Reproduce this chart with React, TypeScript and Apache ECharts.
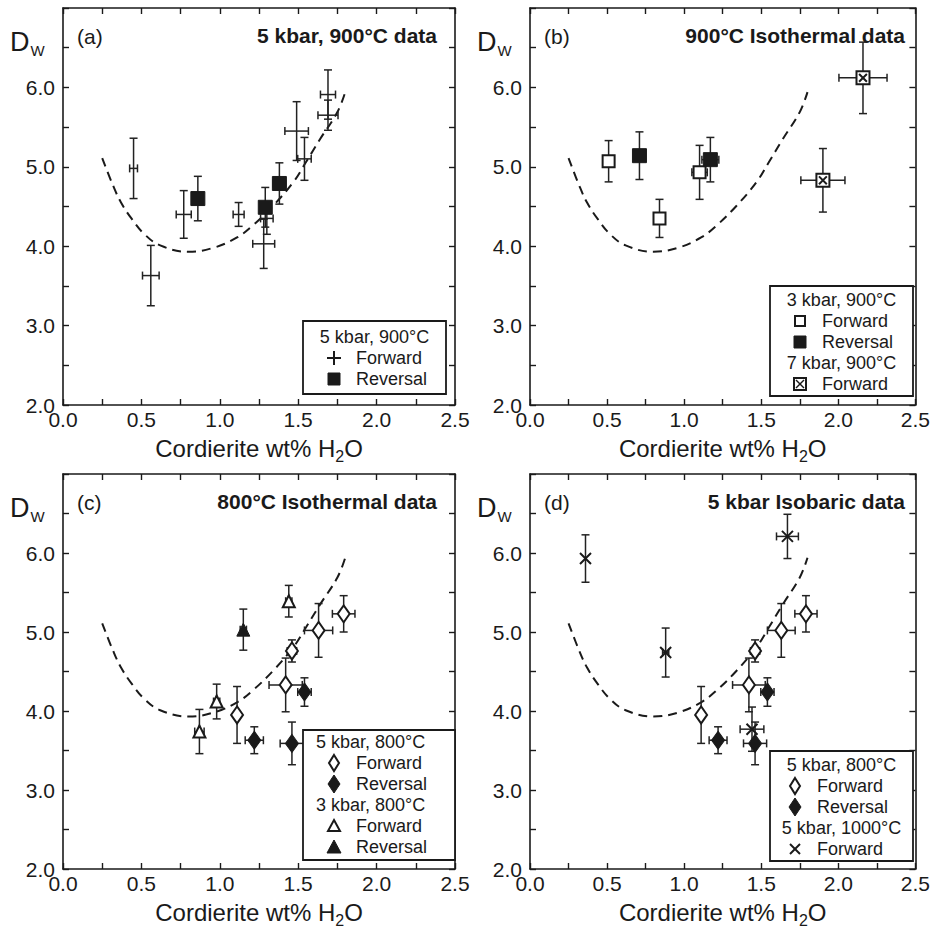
import React, { useEffect, useRef } from "react";
import * as echarts from "echarts";

const FONT = "'Liberation Sans', Arial, Helvetica, sans-serif";
const INK = "#1a1a1a";

// Tick labels
const xTickLabels = ["0.0", "0.5", "1.0", "1.5", "2.0", "2.5"];
const yTickLabels = ["2.0", "3.0", "4.0", "5.0", "6.0"];

// Model curve (dashed), same in all panels
const curveX = [0.25, 0.32, 0.37, 0.44, 0.52, 0.62, 0.8, 0.96, 1.11, 1.21, 1.34, 1.47, 1.55, 1.64, 1.75, 1.8];
const curveY = [5.11, 4.76, 4.55, 4.34, 4.15, 4.01, 3.93, 3.98, 4.11, 4.26, 4.51, 4.81, 5.06, 5.35, 5.69, 5.94];

// (a) 5 kbar, 900°C forward (+)
const a900FwdX = [0.45, 0.56, 0.77, 1.12, 1.3, 1.28, 1.49, 1.54, 1.69, 1.69];
const a900FwdY = [4.98, 3.63, 4.4, 4.4, 4.35, 4.03, 5.45, 5.1, 5.91, 5.65];
const a900FwdXErr = [0.025, 0.053, 0.048, 0.035, 0.04, 0.07, 0.075, 0.043, 0.048, 0.064];
const a900FwdYErr = [0.38, 0.38, 0.3, 0.15, 0.2, 0.31, 0.37, 0.27, 0.31, 0.19];
// (a) 5 kbar, 900°C reversal
const a900RevX = [0.86, 1.29, 1.38];
const a900RevY = [4.6, 4.49, 4.79];
const a900RevXErr = [0.02, 0.02, 0.04];
const a900RevYErr = [0.28, 0.25, 0.26];

// (b) 3 kbar, 900°C forward / reversal ; 7 kbar, 900°C forward
const b3FwdX = [0.51, 0.84, 1.1];
const b3FwdY = [5.07, 4.35, 4.93];
const b3FwdXErr = [0.02, 0.02, 0.05];
const b3FwdYErr = [0.26, 0.24, 0.34];
const b3RevX = [0.71, 1.17];
const b3RevY = [5.14, 5.09];
const b3RevXErr = [0.02, 0.055];
const b3RevYErr = [0.3, 0.28];
const b7FwdX = [2.16, 1.9];
const b7FwdY = [6.12, 4.83];
const b7FwdXErr = [0.156, 0.143];
const b7FwdYErr = [0.45, 0.4];

// 5 kbar, 800°C forward / reversal (panels c and d)
const k5t800FwdX = [1.79, 1.63, 1.46, 1.42, 1.11];
const k5t800FwdY = [5.23, 5.02, 4.76, 4.33, 3.95];
const k5t800FwdXErr = [0.072, 0.09, 0.03, 0.106, 0.02];
const k5t800FwdYErr = [0.23, 0.34, 0.14, 0.34, 0.36];
const k5t800RevX = [1.54, 1.22, 1.46];
const k5t800RevY = [4.24, 3.63, 3.59];
const k5t800RevXErr = [0.043, 0.058, 0.075];
const k5t800RevYErr = [0.18, 0.17, 0.27];
// 3 kbar, 800°C forward / reversal (panel c)
const k3t800FwdX = [0.87, 0.98, 1.44];
const k3t800FwdY = [3.74, 4.12, 5.39];
const k3t800FwdXErr = [0.03, 0.02, 0.02];
const k3t800FwdYErr = [0.28, 0.22, 0.2];
const k3t800RevX = [1.15];
const k3t800RevY = [5.03];
const k3t800RevXErr = [0.02];
const k3t800RevYErr = [0.26];
// 5 kbar, 1000°C forward (panel d)
const k5t1000FwdX = [0.36, 0.88, 1.67, 1.44];
const k5t1000FwdY = [5.93, 4.74, 6.21, 3.77];
const k5t1000FwdXErr = [0, 0.02, 0.071, 0.077];
const k5t1000FwdYErr = [0.3, 0.31, 0.28, 0.28];

const panelLetters = ["(a)", "(b)", "(c)", "(d)"];
const panelTitles = ["5 kbar, 900°C data", "900°C Isothermal data", "800°C Isothermal data", "5 kbar Isobaric data"];

const grids = [
  { left: 63, top: 8, width: 392, height: 397 },
  { left: 530, top: 8, width: 393, height: 397 },
  { left: 63, top: 474, width: 392, height: 395 },
  { left: 530, top: 474, width: 393, height: 395 },
];

const SYM = {
  sqOpen: { symbol: "rect", size: 12, style: { color: "#fff", borderColor: INK, borderWidth: 2 } },
  sqFill: { symbol: "rect", size: 14, style: { color: INK, borderColor: INK, borderWidth: 1 } },
  sqCross: {
    symbol: "path://M0,0L10,0L10,10L0,10ZM2,2L8,8M8,2L2,8",
    size: 13,
    style: { color: "#fff", borderColor: INK, borderWidth: 2 },
  },
  diaOpen: { symbol: "diamond", size: [12, 17], style: { color: "#fff", borderColor: INK, borderWidth: 2 } },
  diaFill: { symbol: "diamond", size: [13, 18], style: { color: INK, borderColor: INK, borderWidth: 1 } },
  triOpen: { symbol: "triangle", size: 12, style: { color: "#fff", borderColor: INK, borderWidth: 2 } },
  triFill: { symbol: "triangle", size: 13, style: { color: INK, borderColor: INK, borderWidth: 1 } },
  cross: { symbol: "path://M0,0L10,10M10,0L0,10", size: 11, style: { color: "none", borderColor: INK, borderWidth: 2 } },
};

function errorSeries(name: string, xs: number[], ys: number[], xe: number[], ye: number[], gi: number) {
  return {
    type: "custom",
    name: name + " error",
    xAxisIndex: gi * 2,
    yAxisIndex: gi * 2,
    z: 3,
    data: xs.map((x, i) => [x, ys[i], xe[i], ye[i]]),
    encode: { x: 0, y: 1 },
    renderItem: (_params: any, api: any) => {
      const x = api.value(0);
      const y = api.value(1);
      const dx = api.value(2);
      const dy = api.value(3);
      const t = api.coord([x, y + dy]);
      const b = api.coord([x, y - dy]);
      const l = api.coord([x - dx, y]);
      const r = api.coord([x + dx, y]);
      const cap = 4;
      const st = { stroke: "#222", lineWidth: 1.5 };
      const ch: any[] = [
        { type: "line", shape: { x1: t[0], y1: t[1], x2: b[0], y2: b[1] }, style: st },
        { type: "line", shape: { x1: t[0] - cap, y1: t[1], x2: t[0] + cap, y2: t[1] }, style: st },
        { type: "line", shape: { x1: b[0] - cap, y1: b[1], x2: b[0] + cap, y2: b[1] }, style: st },
      ];
      if (dx > 0) {
        ch.push({ type: "line", shape: { x1: l[0], y1: l[1], x2: r[0], y2: r[1] }, style: st });
        ch.push({ type: "line", shape: { x1: l[0], y1: l[1] - cap, x2: l[0], y2: l[1] + cap }, style: st });
        ch.push({ type: "line", shape: { x1: r[0], y1: r[1] - cap, x2: r[0], y2: r[1] + cap }, style: st });
      }
      return { type: "group", children: ch };
    },
  };
}

function scatterSeries(name: string, xs: number[], ys: number[], gi: number, kind: keyof typeof SYM) {
  const s = SYM[kind];
  return {
    type: "scatter",
    name,
    xAxisIndex: gi * 2,
    yAxisIndex: gi * 2,
    z: 5,
    symbol: s.symbol,
    symbolSize: s.size,
    itemStyle: { ...s.style, opacity: 1 },
    data: xs.map((x, i) => [x, ys[i]]),
  };
}

function curveSeries(gi: number) {
  return {
    type: "line",
    name: "model curve",
    xAxisIndex: gi * 2,
    yAxisIndex: gi * 2,
    z: 2,
    smooth: 0.4,
    showSymbol: false,
    symbol: "none",
    lineStyle: { color: INK, width: 2, type: [9, 6] },
    data: curveX.map((x, i) => [x, curveY[i]]),
  };
}

function legendSymbol(kind: string, cx: number, cy: number): any[] {
  const st = { stroke: INK, lineWidth: 2, fill: "#fff" };
  const fill = { fill: INK, stroke: INK, lineWidth: 1 };
  switch (kind) {
    case "plus":
      return [
        { type: "line", shape: { x1: cx - 7, y1: cy, x2: cx + 7, y2: cy }, style: { stroke: INK, lineWidth: 2 } },
        { type: "line", shape: { x1: cx, y1: cy - 7, x2: cx, y2: cy + 7 }, style: { stroke: INK, lineWidth: 2 } },
      ];
    case "sqOpen":
      return [{ type: "rect", shape: { x: cx - 5, y: cy - 5, width: 10, height: 10 }, style: st }];
    case "sqFill":
      return [{ type: "rect", shape: { x: cx - 6, y: cy - 6, width: 12, height: 12 }, style: fill }];
    case "sqCross":
      return [
        { type: "rect", shape: { x: cx - 6, y: cy - 6, width: 12, height: 12 }, style: st },
        { type: "line", shape: { x1: cx - 4, y1: cy - 4, x2: cx + 4, y2: cy + 4 }, style: { stroke: INK, lineWidth: 1.5 } },
        { type: "line", shape: { x1: cx + 4, y1: cy - 4, x2: cx - 4, y2: cy + 4 }, style: { stroke: INK, lineWidth: 1.5 } },
      ];
    case "diaOpen":
      return [{ type: "polygon", shape: { points: [[cx, cy - 8], [cx + 5, cy], [cx, cy + 8], [cx - 5, cy]] }, style: st }];
    case "diaFill":
      return [{ type: "polygon", shape: { points: [[cx, cy - 9], [cx + 6, cy], [cx, cy + 9], [cx - 6, cy]] }, style: fill }];
    case "triOpen":
      return [{ type: "polygon", shape: { points: [[cx, cy - 6], [cx + 6, cy + 5], [cx - 6, cy + 5]] }, style: st }];
    case "triFill":
      return [{ type: "polygon", shape: { points: [[cx, cy - 7], [cx + 7, cy + 6], [cx - 7, cy + 6]] }, style: fill }];
    case "cross":
      return [
        { type: "line", shape: { x1: cx - 5, y1: cy - 5, x2: cx + 5, y2: cy + 5 }, style: { stroke: INK, lineWidth: 2 } },
        { type: "line", shape: { x1: cx + 5, y1: cy - 5, x2: cx - 5, y2: cy + 5 }, style: { stroke: INK, lineWidth: 2 } },
      ];
  }
  return [];
}

const LEG_FONT = 18;

type Row = { head?: string; text?: string; sym?: string; y: number };
function legendBox(
  box: { x: number; y: number; w: number; h: number },
  headX: number,
  headAlign: string,
  symX: number,
  textX: number,
  rows: Row[]
) {
  const els: any[] = [
    {
      type: "rect",
      shape: { x: box.x, y: box.y, width: box.w, height: box.h },
      style: { fill: "#fff", stroke: INK, lineWidth: 1.8 },
      z: 10,
    },
  ];
  rows.forEach((r) => {
    if (r.head) {
      els.push({
        type: "text",
        z: 11,
        style: { text: r.head, x: headX, y: r.y, fontSize: LEG_FONT, fontFamily: FONT, fill: INK, align: headAlign, verticalAlign: "middle", textAlign: headAlign, textVerticalAlign: "middle" },
      });
    } else {
      legendSymbol(r.sym!, symX, r.y).forEach((e) => els.push({ ...e, z: 11 }));
      els.push({
        type: "text",
        z: 11,
        style: { text: r.text, x: textX, y: r.y, fontSize: LEG_FONT, fontFamily: FONT, fill: INK, align: "left", verticalAlign: "middle", textAlign: "left", textVerticalAlign: "middle" },
      });
    }
  });
  return els;
}

function buildOption() {
  const xAxis: any[] = [];
  const yAxis: any[] = [];
  const lineStyle = { color: INK, width: 1.6 };
  grids.forEach((_g, gi) => {
    const xBase = {
      gridIndex: gi,
      type: "value",
      min: 0,
      max: 2.5,
      interval: 0.25,
      splitLine: { show: false },
      axisLine: { show: true, onZero: false, lineStyle },
      axisTick: { show: true, inside: true, length: 6, lineStyle: { color: INK, width: 1.4 } },
    };
    xAxis.push({
      ...xBase,
      position: "bottom",
      name: "{m|Cordierite wt% H}{sub|2}{m|O}",
      nameLocation: "middle",
      nameGap: 31,
      nameTextStyle: {
        fontSize: 24,
        fontFamily: FONT,
        color: INK,
        rich: {
          m: { fontSize: 24, fontFamily: FONT, color: INK, lineHeight: 26, verticalAlign: "top" },
          sub: { fontSize: 16, fontFamily: FONT, color: INK, lineHeight: 28, verticalAlign: "bottom" },
        },
      },
      axisLabel: {
        show: true,
        margin: 4,
        fontSize: 21,
        fontFamily: FONT,
        color: INK,
        formatter: (v: number) => {
          const s = v.toFixed(1);
          return Math.abs(v * 2 - Math.round(v * 2)) < 1e-6 && xTickLabels.includes(s) ? s : "";
        },
      },
    });
    xAxis.push({ ...xBase, position: "top", axisLabel: { show: false } });
    const yBase = {
      gridIndex: gi,
      type: "value",
      min: 2,
      max: 7,
      interval: 0.5,
      splitLine: { show: false },
      axisLine: { show: true, onZero: false, lineStyle },
      axisTick: { show: true, inside: true, length: 6, lineStyle: { color: INK, width: 1.4 } },
    };
    yAxis.push({
      ...yBase,
      position: "left",
      axisLabel: {
        show: true,
        margin: 8,
        fontSize: 21,
        fontFamily: FONT,
        color: INK,
        formatter: (v: number) => {
          const s = v.toFixed(1);
          return Math.abs(v - Math.round(v)) < 1e-6 && yTickLabels.includes(s) ? s : "";
        },
      },
    });
    yAxis.push({ ...yBase, position: "right", axisLabel: { show: false } });
  });

  const series: any[] = [];
  for (let gi = 0; gi < 4; gi++) series.push(curveSeries(gi));

  // (a)
  series.push(errorSeries("5 kbar, 900°C Forward", a900FwdX, a900FwdY, a900FwdXErr, a900FwdYErr, 0));
  series.push(errorSeries("5 kbar, 900°C Reversal", a900RevX, a900RevY, a900RevXErr, a900RevYErr, 0));
  series.push(scatterSeries("5 kbar, 900°C Reversal", a900RevX, a900RevY, 0, "sqFill"));
  // (b)
  series.push(errorSeries("3 kbar, 900°C Forward", b3FwdX, b3FwdY, b3FwdXErr, b3FwdYErr, 1));
  series.push(errorSeries("3 kbar, 900°C Reversal", b3RevX, b3RevY, b3RevXErr, b3RevYErr, 1));
  series.push(errorSeries("7 kbar, 900°C Forward", b7FwdX, b7FwdY, b7FwdXErr, b7FwdYErr, 1));
  series.push(scatterSeries("3 kbar, 900°C Forward", b3FwdX, b3FwdY, 1, "sqOpen"));
  series.push(scatterSeries("3 kbar, 900°C Reversal", b3RevX, b3RevY, 1, "sqFill"));
  series.push(scatterSeries("7 kbar, 900°C Forward", b7FwdX, b7FwdY, 1, "sqCross"));
  // (c)
  series.push(errorSeries("5 kbar, 800°C Forward", k5t800FwdX, k5t800FwdY, k5t800FwdXErr, k5t800FwdYErr, 2));
  series.push(errorSeries("5 kbar, 800°C Reversal", k5t800RevX, k5t800RevY, k5t800RevXErr, k5t800RevYErr, 2));
  series.push(errorSeries("3 kbar, 800°C Forward", k3t800FwdX, k3t800FwdY, k3t800FwdXErr, k3t800FwdYErr, 2));
  series.push(errorSeries("3 kbar, 800°C Reversal", k3t800RevX, k3t800RevY, k3t800RevXErr, k3t800RevYErr, 2));
  series.push(scatterSeries("5 kbar, 800°C Forward", k5t800FwdX, k5t800FwdY, 2, "diaOpen"));
  series.push(scatterSeries("5 kbar, 800°C Reversal", k5t800RevX, k5t800RevY, 2, "diaFill"));
  series.push(scatterSeries("3 kbar, 800°C Forward", k3t800FwdX, k3t800FwdY, 2, "triOpen"));
  series.push(scatterSeries("3 kbar, 800°C Reversal", k3t800RevX, k3t800RevY, 2, "triFill"));
  // (d)
  series.push(errorSeries("5 kbar, 800°C Forward", k5t800FwdX, k5t800FwdY, k5t800FwdXErr, k5t800FwdYErr, 3));
  series.push(errorSeries("5 kbar, 800°C Reversal", k5t800RevX, k5t800RevY, k5t800RevXErr, k5t800RevYErr, 3));
  series.push(errorSeries("5 kbar, 1000°C Forward", k5t1000FwdX, k5t1000FwdY, k5t1000FwdXErr, k5t1000FwdYErr, 3));
  series.push(scatterSeries("5 kbar, 800°C Forward", k5t800FwdX, k5t800FwdY, 3, "diaOpen"));
  series.push(scatterSeries("5 kbar, 800°C Reversal", k5t800RevX, k5t800RevY, 3, "diaFill"));
  series.push(scatterSeries("5 kbar, 1000°C Forward", k5t1000FwdX, k5t1000FwdY, 3, "cross"));

  const graphic: any[] = [];
  grids.forEach((g, gi) => {
    const right = g.left + g.width;
    graphic.push({
      type: "text",
      style: { text: panelLetters[gi], x: g.left + 14, y: g.top + 28, fontSize: 21, fontFamily: FONT, fill: INK, align: "left", verticalAlign: "middle", textAlign: "left", textVerticalAlign: "middle" },
    });
    graphic.push({
      type: "text",
      style: { text: panelTitles[gi], x: right - 18, y: g.top + 27, fontSize: 21, fontWeight: "bold", fontFamily: FONT, fill: INK, align: "right", verticalAlign: "middle", textAlign: "right", textVerticalAlign: "middle" },
    });
    graphic.push({
      type: "text",
      style: {
        text: "{d|D}{w|W}",
        x: g.left - 53,
        y: g.top + 35,
        align: "left",
        verticalAlign: "middle",
        textAlign: "left",
        textVerticalAlign: "middle",
        rich: {
          d: { fontSize: 27, fontFamily: FONT, fill: INK, color: INK, lineHeight: 28, verticalAlign: "top" },
          w: { fontSize: 15, fontFamily: FONT, fill: INK, color: INK, lineHeight: 29, verticalAlign: "bottom", padding: [0, 0, 0, 1] },
        },
      },
    });
  });

  graphic.push(
    ...legendBox({ x: 303, y: 321, w: 143, h: 73 }, 374.5, "center", 334, 356, [
      { head: "5 kbar, 900°C", y: 337 },
      { sym: "plus", text: "Forward", y: 358 },
      { sym: "sqFill", text: "Reversal", y: 379 },
    ])
  );
  graphic.push(
    ...legendBox({ x: 770, y: 286, w: 143, h: 110 }, 841.5, "center", 800, 822, [
      { head: "3 kbar, 900°C", y: 300 },
      { sym: "sqOpen", text: "Forward", y: 321 },
      { sym: "sqFill", text: "Reversal", y: 342 },
      { head: "7 kbar, 900°C", y: 363 },
      { sym: "sqCross", text: "Forward", y: 384 },
    ])
  );
  graphic.push(
    ...legendBox({ x: 303, y: 730, w: 152, h: 130 }, 316, "left", 334, 356, [
      { head: "5 kbar, 800°C", y: 742 },
      { sym: "diaOpen", text: "Forward", y: 763 },
      { sym: "diaFill", text: "Reversal", y: 784 },
      { head: "3 kbar, 800°C", y: 805 },
      { sym: "triOpen", text: "Forward", y: 826 },
      { sym: "triFill", text: "Reversal", y: 847 },
    ])
  );
  graphic.push(
    ...legendBox({ x: 770, y: 751, w: 143, h: 110 }, 841.5, "center", 795, 817, [
      { head: "5 kbar, 800°C", y: 765 },
      { sym: "diaOpen", text: "Forward", y: 786 },
      { sym: "diaFill", text: "Reversal", y: 807 },
      { head: "5 kbar, 1000°C", y: 828 },
      { sym: "cross", text: "Forward", y: 849 },
    ])
  );

  return {
    animation: false,
    backgroundColor: "#fff",
    textStyle: { fontFamily: FONT },
    grid: grids.map((g) => ({ ...g, containLabel: false })),
    xAxis,
    yAxis,
    series,
    graphic,
  };
}

export default function App() {
  const ref = useRef<HTMLDivElement>(null);
  useEffect(() => {
    document.body.style.margin = "0";
    if (!ref.current) return;
    const chart = echarts.init(ref.current, undefined, { renderer: "svg" });
    chart.setOption(buildOption() as any);
    return () => chart.dispose();
  }, []);
  return <div ref={ref} style={{ width: 933, height: 933, background: "#fff", overflow: "hidden" }} />;
}
